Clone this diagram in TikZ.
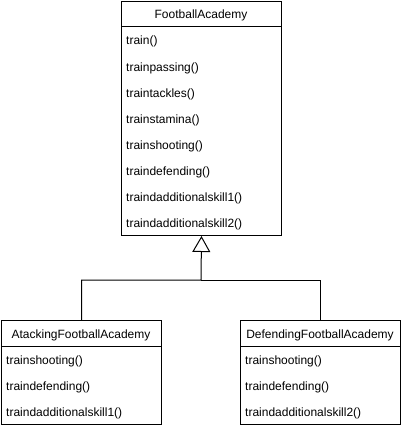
\documentclass[tikz,border=0pt]{standalone}
\usepackage{fontspec}
\setmainfont{Liberation Sans}
\usetikzlibrary{arrows.meta}
\begin{document}
\begin{tikzpicture}[x=1pt,y=-1pt,
  classbox/.style={draw=black,line width=1pt,fill=white,minimum width=160pt,inner sep=0pt,anchor=north west},
  title/.style={anchor=base,inner sep=0pt,font=\fontsize{12pt}{14pt}\selectfont},
  method/.style={anchor=base west,inner sep=0pt,font=\fontsize{12pt}{14pt}\selectfont},
  divider/.style={line width=1pt},
  conn/.style={line width=1pt},
  gen/.style={line width=1pt,-{Triangle[open,length=16pt,width=18pt,line width=1pt]}}
]
\useasboundingbox (0,0) rectangle (402,428);

% top class
\node[classbox,minimum height=234pt] (fa) at (121,1) {};
\draw[divider] (121,27) -- (281,27);
\node[title] (fat) at (201,19) {FootballAcademy};
\node[method] (m1) at (126,45) {train()};
\node[method] (m2) at (126,71) {trainpassing()};
\node[method] (m3) at (126,97) {traintackles()};
\node[method] (m4) at (126,123) {trainstamina()};
\node[method] (m5) at (126,149) {trainshooting()};
\node[method] (m6) at (126,175) {traindefending()};
\node[method] (m7) at (126,201) {traindadditionalskill1()};
\node[method] (m8) at (126,227) {traindadditionalskill2()};

% left class
\node[classbox,minimum height=104pt] (att) at (1,320) {};
\draw[divider] (1,346) -- (161,346);
\node[title] (attt) at (81,338) {AtackingFootballAcademy};
\node[method] (a1) at (6,364) {trainshooting()};
\node[method] (a2) at (6,390) {traindefending()};
\node[method] (a3) at (6,416) {traindadditionalskill1()};

% right class
\node[classbox,minimum height=104pt] (def) at (240,320) {};
\draw[divider] (240,346) -- (400,346);
\node[title] (deft) at (320,338) {DefendingFootballAcademy};
\node[method] (d1) at (245,364) {trainshooting()};
\node[method] (d2) at (245,390) {traindefending()};
\node[method] (d3) at (245,416) {traindadditionalskill2()};

% generalization
\coordinate (j) at (201,280);
\draw[gen] (att.north) |- (j) -- (fa.south);
\draw[conn] (def.north) |- (j);
\end{tikzpicture}
\end{document}
